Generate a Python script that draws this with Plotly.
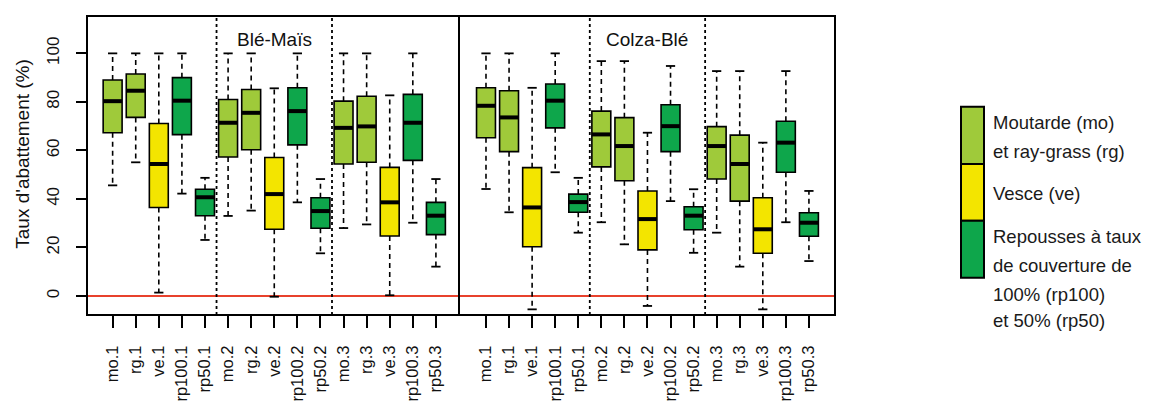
import plotly.graph_objects as go

# ---------------- data ----------------
categories = ["mo.1", "rg.1", "ve.1", "rp100.1", "rp50.1",
              "mo.2", "rg.2", "ve.2", "rp100.2", "rp50.2",
              "mo.3", "rg.3", "ve.3", "rp100.3", "rp50.3"]

panel_names = ["Blé-Maïs", "Colza-Blé"]

# Blé-Maïs
bm_low = [45.6, 55.1, 1.4, 42.2, 23.1, 33.0, 35.2, -0.3, 38.6, 17.6, 28.0, 29.5, 0.3, 30.2, 12.1]
bm_q1 = [67.3, 73.6, 36.5, 66.5, 33.1, 57.3, 60.3, 27.5, 62.3, 27.9, 54.4, 55.1, 24.7, 55.9, 25.3]
bm_med = [80.3, 84.6, 54.4, 80.5, 40.7, 71.4, 75.5, 42.0, 76.2, 35.0, 69.3, 69.9, 38.6, 71.4, 33.1]
bm_q3 = [89.0, 91.5, 71.1, 90.0, 44.0, 81.0, 85.1, 57.1, 85.8, 40.5, 80.3, 82.3, 53.0, 83.1, 38.6]
bm_high = [100, 100, 100, 100, 48.7, 100, 100, 85.6, 100, 48.2, 100, 100, 82.7, 100, 48.2]

# Colza-Blé
cb_low = [44.1, 34.5, -5.5, 51.0, 26.1, 30.4, 21.3, -4.1, 39.1, 17.8, 26.1, 12.1, -5.5, 30.4, 14.4]
cb_q1 = [65.2, 59.5, 20.3, 69.3, 34.5, 53.2, 47.5, 19.0, 59.5, 27.3, 48.2, 39.1, 17.6, 51.0, 24.6]
cb_med = [78.4, 73.6, 36.5, 80.5, 38.7, 66.6, 61.8, 31.7, 70.0, 33.1, 61.8, 54.4, 27.5, 63.2, 30.2]
cb_q3 = [85.8, 84.6, 52.9, 87.4, 42.0, 76.2, 73.5, 43.3, 78.8, 36.8, 69.8, 66.3, 40.5, 72.0, 34.3]
cb_high = [100, 100, 85.8, 100, 48.7, 96.8, 96.8, 67.3, 94.8, 44.0, 92.7, 92.7, 63.2, 92.7, 43.3]

y_ticks = [0, 20, 40, 60, 80, 100]
y_title = "Taux d'abattement (%)"

legend_items = [
    ("#9FCA3A", ["Moutarde (mo)", "et ray-grass (rg)"]),
    ("#F3E500", ["Vesce (ve)"]),
    ("#0EA64B", ["Repousses à taux", "de couverture de", "100% (rp100)", "et 50% (rp50)"]),
]

group_color = {"mo": "#9FCA3A", "rg": "#9FCA3A", "ve": "#F3E500",
               "rp100": "#0EA64B", "rp50": "#0EA64B"}

# ---------------- layout geometry ----------------
# the page body adds an 8px margin; screen coordinates are shifted back by OFF
OFF = 8
W, H = 1154, 406
L, R, T, B = 87 - OFF, 835 - OFF, 16 - OFF, 315 - OFF
SPLIT = (459 - 87) / (835 - 87)
FONT = "Liberation Sans, Arial, Helvetica, sans-serif"


def px_x(px):
    return (px - OFF - L) / (R - L)


def px_y(py):
    return (B - (py - OFF)) / (B - T)


BOXW = 0.82
CAPW = 0.2

fig = go.Figure()

panels = [
    ("x", panel_names[0], bm_low, bm_q1, bm_med, bm_q3, bm_high),
    ("x2", panel_names[1], cb_low, cb_q1, cb_med, cb_q3, cb_high),
]

positions = list(range(len(categories)))
colors_in_order = []
for c in categories:
    col = group_color[c.split(".")[0]]
    if col not in colors_in_order:
        colors_in_order.append(col)

for axis, pname, lo, q1, med, q3, hi in panels:
    wx, wy = [], []
    cx, cy = [], []
    mx, my = [], []
    for i in positions:
        wx += [i, i, None, i, i, None]
        wy += [q3[i], hi[i], None, q1[i], lo[i], None]
        cx += [i - CAPW, i + CAPW, None, i - CAPW, i + CAPW, None]
        cy += [hi[i], hi[i], None, lo[i], lo[i], None]
        mx += [i - BOXW / 2, i + BOXW / 2, None]
        my += [med[i], med[i], None]
    fig.add_trace(go.Scatter(x=wx, y=wy, mode="lines", xaxis=axis, yaxis="y",
                             line=dict(color="black", width=1.6, dash="5px,4px"),
                             showlegend=False, hoverinfo="skip"))
    fig.add_trace(go.Scatter(x=cx, y=cy, mode="lines", xaxis=axis, yaxis="y",
                             line=dict(color="black", width=1.8),
                             showlegend=False, hoverinfo="skip"))
    for col in colors_in_order:
        idx = [i for i, c in enumerate(categories) if group_color[c.split(".")[0]] == col]
        fig.add_trace(go.Box(
            x=[positions[i] for i in idx],
            q1=[q1[i] for i in idx],
            median=[med[i] for i in idx],
            q3=[q3[i] for i in idx],
            lowerfence=[q1[i] for i in idx],
            upperfence=[q3[i] for i in idx],
            width=BOXW, whiskerwidth=0,
            fillcolor=col, line=dict(color="black", width=1.6),
            xaxis=axis, yaxis="y", showlegend=False, hoverinfo="skip",
        ))
    fig.add_trace(go.Scatter(x=mx, y=my, mode="lines", xaxis=axis, yaxis="y",
                             line=dict(color="black", width=4),
                             showlegend=False, hoverinfo="skip"))

shapes = []
shapes.append(dict(type="line", xref="paper", yref="y", x0=0, x1=1, y0=0, y1=0,
                   line=dict(color="#E8412C", width=2), layer="below"))
for axis in ["x", "x2"]:
    for xv in [4.5, 9.5]:
        shapes.append(dict(type="line", xref=axis, yref="paper", x0=xv, x1=xv, y0=0, y1=1,
                           line=dict(color="black", width=1.8, dash="dot")))
shapes.append(dict(type="rect", xref="paper", yref="paper", x0=0, x1=1, y0=0, y1=1,
                   line=dict(color="black", width=2)))
shapes.append(dict(type="line", xref="paper", yref="paper", x0=SPLIT, x1=SPLIT, y0=0, y1=1,
                   line=dict(color="black", width=2)))

seg_px = [106.7, 164, 220.7, 277.7]
for k, (col, _) in enumerate(legend_items):
    shapes.append(dict(type="rect", xref="paper", yref="paper",
                       x0=px_x(961), x1=px_x(984), y0=px_y(seg_px[k + 1]), y1=px_y(seg_px[k]),
                       fillcolor=col, line=dict(color="black", width=2)))

annotations = []
for axis, pname in zip(["x", "x2"], panel_names):
    annotations.append(dict(x=7, y=105.9, xref=axis, yref="y", text=pname, showarrow=False,
                            font=dict(family=FONT, size=19, color="#111"),
                            xanchor="center", yanchor="middle"))
annotations.append(dict(x=px_x(21.7), y=px_y(154), xref="paper", yref="paper", text=y_title,
                        textangle=-90, showarrow=False, xanchor="center", yanchor="middle",
                        font=dict(family=FONT, size=19, color="#111")))
line_centers = [122.5, 151, 193, 236.5, 265.5, 294, 320]
lines = [t for _, ts in legend_items for t in ts]
for t, yc in zip(lines, line_centers):
    annotations.append(dict(x=px_x(991), y=px_y(yc), xref="paper", yref="paper", text=t,
                            showarrow=False, xanchor="left", yanchor="middle",
                            font=dict(family=FONT, size=18.5, color="#1a1a1a")))

xaxis_common = dict(tickvals=positions, ticktext=categories, tickangle=-90,
                    ticks="outside", ticklen=12, tickwidth=1.6, tickcolor="black",
                    showgrid=False, zeroline=False, showline=False, anchor="y",
                    tickfont=dict(family=FONT, size=16.5, color="#111"),
                    ticklabelstandoff=11, automargin=False)

fig.update_layout(
    width=W, height=H,
    margin=dict(l=L, r=W - R, t=T, b=H - B, pad=0, autoexpand=False),
    paper_bgcolor="white", plot_bgcolor="white",
    boxmode="overlay",
    xaxis=dict(domain=[0, SPLIT], range=[-1.11, 15.0], **xaxis_common),
    xaxis2=dict(domain=[SPLIT, 1], range=[-1.17, 15.13], **xaxis_common),
    yaxis=dict(range=[-7.83, 115.4], tickvals=y_ticks, tickangle=-90,
               ticks="outside", ticklen=10, tickwidth=1.6, tickcolor="black",
               showgrid=False, zeroline=False, showline=False, automargin=False,
               tickfont=dict(family=FONT, size=17, color="#111"),
               ticklabelstandoff=10),
    shapes=shapes,
    annotations=annotations,
    showlegend=False,
)

fig.write_html("out.html")
